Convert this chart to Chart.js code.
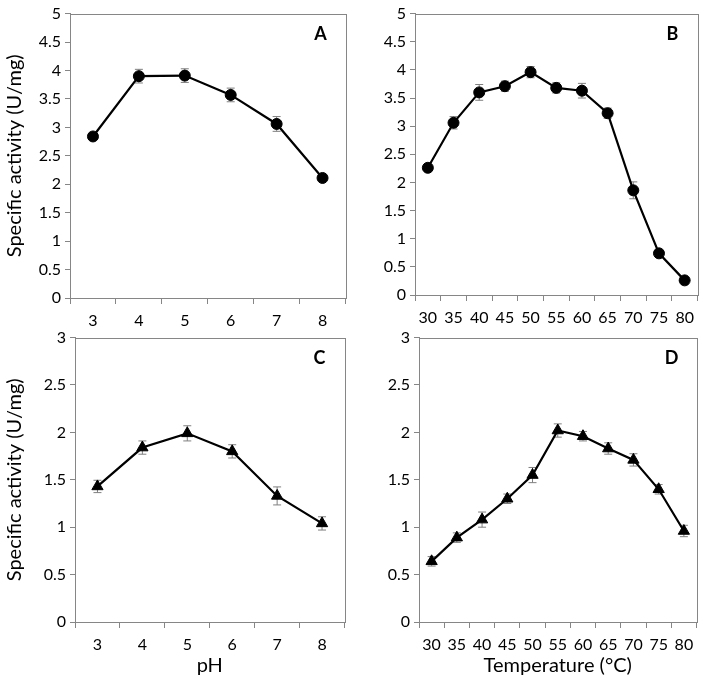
<!DOCTYPE html>
<html>
<head>
<meta charset="utf-8">
<script src="https://cdn.jsdelivr.net/npm/chart.js@4/dist/chart.umd.min.js"></script>
<style>
  body { margin: 0; background: #fff; }
  #wrap { position: relative; width: 704px; height: 678px; overflow: hidden; }
  canvas { position: absolute; }
</style>
</head>
<body>
<div id="wrap">
  <canvas id="chartA" width="352" height="333" style="left:0;top:0"></canvas>
  <canvas id="chartB" width="352" height="333" style="left:352px;top:0"></canvas>
  <canvas id="chartC" width="352" height="354" style="left:0;top:324px"></canvas>
  <canvas id="chartD" width="352" height="354" style="left:352px;top:324px"></canvas>
</div>
<script>
// categories
const phLabels = ["3", "4", "5", "6", "7", "8"];
const tempLabels = ["30", "35", "40", "45", "50", "55", "60", "65", "70", "75", "80"];

// A: activity vs pH (circles)
const activityA = [2.84, 3.90, 3.91, 3.57, 3.06, 2.11];
const errorA = [0.03, 0.12, 0.12, 0.12, 0.13, 0.03];

// B: activity vs temperature (circles)
const activityB = [2.26, 3.06, 3.60, 3.71, 3.96, 3.68, 3.63, 3.23, 1.86, 0.74, 0.26];
const errorB = [0.03, 0.11, 0.14, 0.09, 0.10, 0.09, 0.13, 0.09, 0.15, 0.05, 0.03];

// C: activity vs pH (triangles)
const activityC = [1.43, 1.84, 1.99, 1.80, 1.33, 1.04];
const errorC = [0.065, 0.07, 0.08, 0.07, 0.095, 0.07];

// D: activity vs temperature (triangles)
const activityD = [0.64, 0.89, 1.08, 1.30, 1.55, 2.02, 1.96, 1.83, 1.71, 1.40, 0.96];
const errorD = [0.05, 0.05, 0.08, 0.05, 0.08, 0.07, 0.05, 0.06, 0.065, 0.05, 0.06];

const axisGray = "#868686";
const fontName = "Lato";

// error bars drawn through the y scale
const errorBarPlugin = {
    id: "errorBars",
    beforeDatasetsDraw(chart, args, opts) {
        const ctx = chart.ctx;
        const y = chart.scales.y;
        const meta = chart.getDatasetMeta(0);
        const values = chart.data.datasets[0].data;
        ctx.save();
        ctx.strokeStyle = "#7f7f7f";
        ctx.lineWidth = 1;
        meta.data.forEach(function (pt, i) {
            const e = opts.errors[i];
            const top = y.getPixelForValue(values[i] + e);
            const bot = y.getPixelForValue(values[i] - e);
            ctx.beginPath();
            ctx.moveTo(pt.x, top); ctx.lineTo(pt.x, bot);
            ctx.moveTo(pt.x - 4, top); ctx.lineTo(pt.x + 4, top);
            ctx.moveTo(pt.x - 4, bot); ctx.lineTo(pt.x + 4, bot);
            ctx.stroke();
        });
        ctx.restore();
    }
};

// plot frame and panel letter
const framePlugin = {
    id: "frame",
    afterDraw(chart, args, opts) {
        const a = chart.chartArea;
        const ctx = chart.ctx;
        ctx.save();
        ctx.strokeStyle = axisGray;
        ctx.lineWidth = 1;
        ctx.strokeRect(Math.round(a.left) + 0.5, Math.round(a.top) + 0.5,
            Math.round(a.right - a.left), Math.round(a.bottom - a.top));
        ctx.fillStyle = "#000";
        ctx.font = "bold 18px " + fontName;
        ctx.textAlign = "center";
        ctx.textBaseline = "middle";
        ctx.fillText(opts.letter, a.right - 25, a.top + 21);
        ctx.restore();
    }
};

function makePanel(id, labels, values, errors, cfg) {
    const canvas = document.getElementById(id);
    new Chart(canvas.getContext("2d"), {
        type: "line",
        data: {
            labels: labels,
            datasets: [{
                data: values,
                borderColor: "#000",
                backgroundColor: "#000",
                borderWidth: 2.2,
                pointStyle: cfg.marker,
                pointRadius: cfg.marker === "triangle" ? 6.5 : 5.5,
                pointBorderWidth: 1,
                tension: 0
            }]
        },
        options: {
            responsive: false,
            animation: false,
            devicePixelRatio: 1,
            layout: { padding: { top: cfg.top, right: cfg.right, left: 0, bottom: 0 } },
            plugins: {
                legend: { display: false },
                tooltip: { enabled: false },
                errorBars: { errors: errors },
                frame: { letter: cfg.letter }
            },
            scales: {
                x: {
                    type: "category",
                    offset: true,
                    grid: { offset: true, drawOnChartArea: false, drawTicks: true, tickLength: 6, color: axisGray },
                    border: { color: axisGray },
                    ticks: { color: "#000", padding: 7, maxRotation: 0, autoSkip: false, font: { family: fontName, size: 16 } },
                    title: {
                        display: !!cfg.xTitle,
                        text: cfg.xTitle || "",
                        color: "#000",
                        padding: { top: 0, bottom: 0 },
                        font: { family: fontName, size: 20 }
                    },
                    afterFit: function (s) { s.height = cfg.xHeight; }
                },
                y: {
                    min: 0,
                    max: cfg.yMax,
                    grid: { drawOnChartArea: false, drawTicks: true, tickLength: 5, color: axisGray },
                    border: { color: axisGray },
                    ticks: {
                        stepSize: 0.5, color: "#000", padding: 4,
                        font: { family: fontName, size: 16 },
                        callback: function (v) { return String(v); }
                    },
                    title: {
                        display: !!cfg.yTitle,
                        text: cfg.yTitle || "",
                        color: "#000",
                        padding: { top: 3, bottom: 0 },
                        font: { family: fontName, size: 20 }
                    },
                    afterFit: function (s) { s.width = cfg.yWidth; }
                }
            }
        },
        plugins: [errorBarPlugin, framePlugin]
    });
}

const yTitle = "Specific activity (U/mg)";
makePanel("chartA", phLabels, activityA, errorA,
    { marker: "circle", letter: "A", yMax: 5, top: 10, right: 3, yWidth: 70, xHeight: 35, yTitle: yTitle });
makePanel("chartB", tempLabels, activityB, errorB,
    { marker: "circle", letter: "B", yMax: 5, top: 9, right: 4, yWidth: 63, xHeight: 38 });
makePanel("chartC", phLabels, activityC, errorC,
    { marker: "triangle", letter: "C", yMax: 3, top: 10, right: 3, yWidth: 75, xHeight: 56, yTitle: yTitle, xTitle: "pH" });
makePanel("chartD", tempLabels, activityD, errorD,
    { marker: "triangle", letter: "D", yMax: 3, top: 10, right: 4, yWidth: 67, xHeight: 56, xTitle: "Temperature (°C)" });
</script>
</body>
</html>
